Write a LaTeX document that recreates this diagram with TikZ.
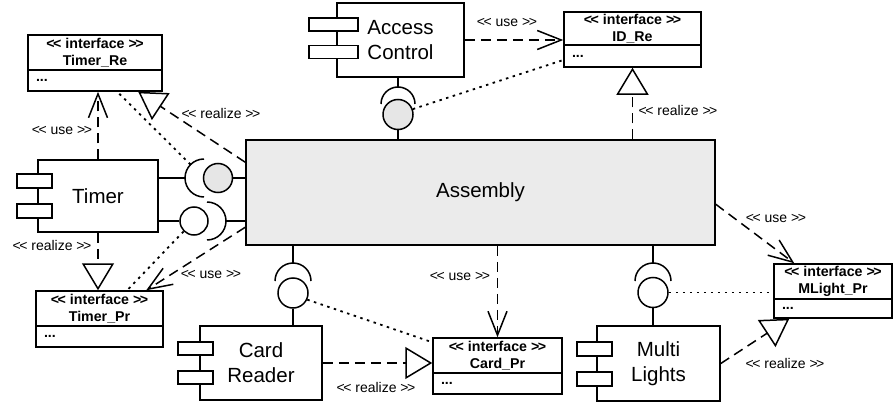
\documentclass[tikz,border=0pt]{standalone}
\usepackage{fontspec}
\setmainfont{Liberation Sans}
\usetikzlibrary{arrows.meta,calc}
\definecolor{asmgray}{HTML}{EBEBEB}
\definecolor{ballgray}{HTML}{E6E6E6}
\newcommand{\lsg}{<\kern-1.5pt<}
\newcommand{\rsg}{>\kern-1.5pt>}
\begin{document}
\begin{tikzpicture}[x=1pt,y=-1pt, line width=1.5pt,
 comp/.style={draw, fill=white, inner sep=0pt, font=\fontsize{20.5}{25}\selectfont, align=center},
 tabbox/.style={draw, fill=white, inner sep=0pt, minimum width=35pt, minimum height=14pt},
 ifhead/.style={draw, fill=white, inner sep=0pt, font=\bfseries\fontsize{14.2}{17}\selectfont, align=center},
 ifbody/.style={draw, fill=white, inner xsep=8pt, inner ysep=0pt, font=\bfseries\fontsize{14.2}{17}\selectfont, align=left},
 ball/.style={circle, draw, fill=white, inner sep=0pt, minimum size=29pt},
 sock/.style={circle, draw=none, inner sep=0pt, outer sep=0pt},
 lbl/.style={inner sep=0pt, font=\fontsize{14}{16}\selectfont},
 useline/.style={dash pattern=on 10pt off 6pt, -{Straight Barb[length=24pt,width=19pt]}},
 realline/.style={dash pattern=on 10pt off 6pt, -{Triangle[length=27pt,width=32pt,fill=white]}},
 dotline/.style={line width=1.8pt, dash pattern=on 2.5pt off 4.5pt},
]
\useasboundingbox (0,0) rectangle (894,404);

% Assembly
\node[comp, fill=asmgray, minimum width=469pt, minimum height=105pt] (Assembly) at (480.5,192.5) {Assembly};

% Components
\node[comp, minimum width=120pt, minimum height=72pt] (Timer) at (98,196) {Timer};
\node[tabbox] (Tt1) at (34.5,181) {};
\node[tabbox] (Tt2) at (34.5,211) {};

\node[comp, minimum width=127pt, minimum height=74pt] (AC) at (400.5,40) {Access\\Control};
\node[tabbox, minimum width=49pt, minimum height=13pt] (At1) at (333.5,24.5) {};
\node[tabbox, minimum width=49pt, minimum height=13pt] (At2) at (333.5,52) {};

\node[comp, minimum width=122pt, minimum height=74pt] (CR) at (261,363) {Card\\Reader};
\node[tabbox, minimum height=13pt] (Ct1) at (195.5,348.5) {};
\node[tabbox, minimum height=13pt] (Ct2) at (195.5,377.5) {};

\node[comp, minimum width=123pt, minimum height=75pt] (ML) at (658.5,363.5) {Multi\\Lights};
\node[tabbox] (Mt1) at (594.5,349) {};
\node[tabbox] (Mt2) at (594.5,379) {};

% Interfaces
\node[ifhead, minimum width=134pt, minimum height=35pt] (TReh) at (95,52.5) {\lsg{} interface \rsg\\Timer\_Re};
\node[ifbody, text width=118pt, minimum height=21pt] (TReb) at (95,80.5) {...};

\node[ifhead, minimum width=137pt, minimum height=33pt] (IDh) at (632.5,28.5) {\lsg{} interface \rsg\\ID\_Re};
\node[ifbody, text width=121pt, minimum height=22pt] (IDb) at (632.5,56) {...};

\node[ifhead, minimum width=127pt, minimum height=35pt] (TPrh) at (99.5,308.5) {\lsg{} interface \rsg\\Timer\_Pr};
\node[ifbody, text width=111pt, minimum height=21pt] (TPrb) at (99.5,336.5) {...};

\node[ifhead, minimum width=129pt, minimum height=35pt] (CPh) at (497.5,355.5) {\lsg{} interface \rsg\\Card\_Pr};
\node[ifbody, text width=113pt, minimum height=21pt] (CPb) at (497.5,383.5) {...};

\node[ifhead, minimum width=118pt, minimum height=35pt] (MLh) at (833,281.5) {\lsg{} interface \rsg\\MLight\_Pr};
\node[ifbody, text width=102pt, minimum height=19pt] (MLb) at (833,308.5) {...};

% Balls and sockets
\node[ball, fill=ballgray] (B1) at (218,178) {};
\node[sock, minimum size=38pt] (S1) at (204,178) {};
\draw (S1.north) arc[start angle=90, end angle=270, radius=19pt];
\node[ball, minimum size=28pt] (B2) at (194,221) {};
\node[sock, minimum size=38pt] (S2) at (207,221) {};
\draw (S2.north) arc[start angle=90, end angle=-90, radius=19pt];

\node[sock, minimum size=34pt] (S3) at (398,104) {};
\draw (S3.west) arc[start angle=180, end angle=0, radius=17pt];
\node[ball, fill=ballgray, minimum size=30pt] (B3) at (398,114.5) {};

\node[sock, minimum size=36pt] (S4) at (293,281) {};
\draw (S4.west) arc[start angle=180, end angle=0, radius=18pt];
\node[ball, minimum size=30pt] (B4) at (293,293) {};

\node[sock, minimum size=36pt] (S5) at (653,281) {};
\draw (S5.west) arc[start angle=180, end angle=0, radius=18pt];
\node[ball, minimum size=30pt] (B5) at (653,292.5) {};

\draw (Timer.east |- S1.west) -- (S1.west);
\draw (B1.east) -- (Assembly.west |- B1.east);
\draw (Timer.east |- B2.west) -- (B2.west);
\draw (S2.east) -- (Assembly.west |- S2.east);
\draw (S3.north) -- (S3.north |- AC.south);
\draw (B3.south) -- (B3.south |- Assembly.north);
\draw (S4.north) -- (S4.north |- Assembly.south);
\draw (B4.south) -- (B4.south |- CR.north);
\draw (S5.north) -- (S5.north |- Assembly.south);
\draw (B5.south) -- (B5.south |- ML.north);

% Connectors
\draw[useline] (Timer.north) -- (Timer.north |- TReb.south);
\draw[realline] ([yshift=-23pt]Assembly.north west) -- ([xshift=111pt]TReb.south west);
\draw[dotline] (S1.north west) -- ([xshift=90pt]TReb.south west);
\draw[realline] (Timer.south) -- (Timer.south |- TPrh.north);
\draw[useline] ([yshift=-88pt]Assembly.north west) -- ([xshift=111pt]TPrh.north west);
\draw[dotline] (B2.south west) -- ([xshift=92pt]TPrh.north west);
\draw[useline] (AC.east) -- (AC.east -| IDh.west);
\draw[dotline] (B3.20) -- ([yshift=-4pt]IDb.west);
\draw[realline] (Assembly.north -| IDb.south) -- (IDb.south);
\draw[realline] (CR.east) -- (CR.east -| CPh.west);
\draw[useline] (Assembly.south -| CPh.north) -- (CPh.north);
\draw[dotline] (B4.-25) -- ([yshift=-5pt]CPh.north west);
\draw[useline] ([yshift=-65pt]Assembly.north east) -- ([xshift=21pt]MLh.north west);
\draw[dotline] (B5.east) -- (B5.east -| MLh.west);
\draw[realline] (ML.east) -- ([xshift=16pt]MLb.south west);

% Labels
\node[lbl] (L1) at (62,130) {\lsg{} use \rsg};
\node[lbl] (L2) at (221,113) {\lsg{} realize \rsg};
\node[lbl] (L3) at (52,245) {\lsg{} realize \rsg};
\node[lbl] (L4) at (211,274) {\lsg{} use \rsg};
\node[lbl] (L5) at (507,22) {\lsg{} use \rsg};
\node[lbl] (L6) at (678,110) {\lsg{} realize \rsg};
\node[lbl] (L7) at (376,387) {\lsg{} realize \rsg};
\node[lbl] (L8) at (460,276) {\lsg{} use \rsg};
\node[lbl] (L9) at (776,218) {\lsg{} use \rsg};
\node[lbl] (L10) at (785,363) {\lsg{} realize \rsg};
\end{tikzpicture}
\end{document}
